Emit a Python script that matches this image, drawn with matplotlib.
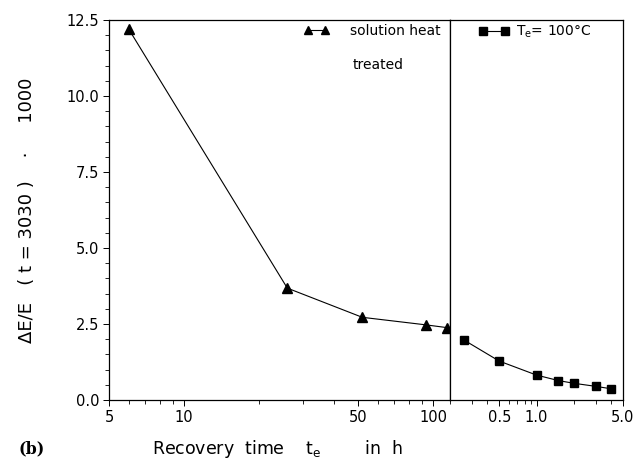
import numpy as np
import matplotlib
matplotlib.use('Agg')
import matplotlib.pyplot as plt
from matplotlib.ticker import FixedLocator, NullFormatter

plt.rcParams['font.family'] = 'DejaVu Sans'
plt.rcParams['mathtext.default'] = 'regular'

# solution heat treated (left panel, time in h)
t_sol = [6, 26, 52, 94, 114]
dE_sol = [12.2, 3.68, 2.72, 2.47, 2.38]

# recovery at Te = 100 C (right panel, time in h)
t_100 = [0.26, 0.5, 1.0, 1.5, 2.0, 3.0, 4.0]
dE_100 = [1.97, 1.28, 0.82, 0.64, 0.55, 0.45, 0.37]

left_ticks = [5, 10, 50, 100]
left_labels = ['5', '10', '50', '100']
right_ticks = [0.5, 1.0, 5.0]
right_labels = ['0.5', '1.0', '5.0']
y_ticks = [0.0, 2.5, 5.0, 7.5, 10.0, 12.5]

fig = plt.figure(figsize=(6.44, 4.66), dpi=100)
ax1 = fig.add_axes([109/644, 66/466, 341/644, 380/466])
ax2 = fig.add_axes([450/644, 66/466, 173/644, 380/466])

lw = 0.8
for ax in (ax1, ax2):
    for s in ax.spines.values():
        s.set_linewidth(0.9)
    ax.set_xscale('log')
    ax.set_ylim(0, 12.5)
    ax.tick_params(which='major', direction='out', length=4, width=0.7, labelsize=10.5, pad=3)
    ax.tick_params(which='minor', direction='out', length=3, width=0.6)

ax1.plot(t_sol, dE_sol, '-^', color='black', lw=lw, ms=7, label='solution heat')
ax2.plot(t_100, dE_100, '-s', color='black', lw=lw, ms=6, label='T$_e$= 100°C')

ax1.set_xlim(5, 117)
ax1.xaxis.set_major_locator(FixedLocator(left_ticks))
ax1.set_xticklabels(left_labels)
ax1.xaxis.set_minor_locator(FixedLocator([6, 7, 8, 9, 20, 30, 40, 60, 70, 80, 90]))
ax1.xaxis.set_minor_formatter(NullFormatter())
ax1.set_yticks(y_ticks)
ax1.set_yticklabels(['%.1f' % v for v in y_ticks])
ax1.yaxis.set_minor_locator(FixedLocator(np.arange(0, 12.51, 0.5)))

ax2.set_xlim(0.2, 5.0)
ax2.xaxis.set_major_locator(FixedLocator(right_ticks))
ax2.set_xticklabels(right_labels)
ax2.xaxis.set_minor_locator(FixedLocator([0.2, 0.3, 0.4, 0.6, 0.7, 0.8, 0.9, 2, 3, 4]))
ax2.xaxis.set_minor_formatter(NullFormatter())
ax2.set_yticks([])
ax2.tick_params(axis='y', which='both', left=False, labelleft=False)

leg1 = ax1.legend(loc='upper left', bbox_to_anchor=(0.572, 0.99), frameon=False,
                  numpoints=2, handlelength=1.8, handletextpad=1.5, borderpad=0,
                  borderaxespad=0, fontsize=10, markerscale=0.8)
ax1.text(0.713, 0.882, 'treated', transform=ax1.transAxes, fontsize=10, va='center')
leg2 = ax2.legend(loc='upper left', bbox_to_anchor=(0.168, 0.99), frameon=False,
                  numpoints=2, handlelength=2.15, handletextpad=0.5, borderpad=0,
                  borderaxespad=0, fontsize=10, markerscale=0.9)

fig.text(27/644, 1 - 210/466, 'ΔE/E   ( t = 3030 )    ·     1000', rotation=90,
         ha='center', va='center', fontsize=13)
fig.text(152/644, 1 - 449/466, 'Recovery  time    t$_e$        in  h', ha='left',
         va='center', fontsize=12.5)
fig.text(18/644, 1 - 449/466, '(b)', fontfamily='DejaVu Serif', fontweight='bold',
         ha='left', va='center', fontsize=11.5)

fig.savefig('out.png', dpi=100)
